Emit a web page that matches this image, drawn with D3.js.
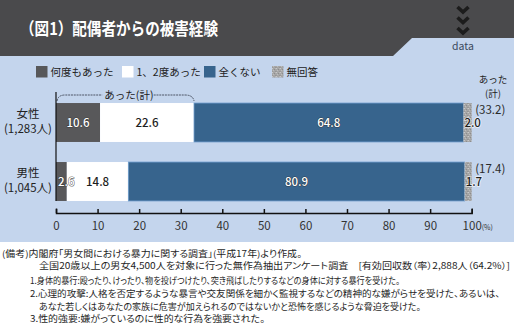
<!DOCTYPE html>
<html>
<head>
<meta charset="utf-8">
<script src="https://cdn.jsdelivr.net/npm/d3@7"></script>
<style>
  html, body { margin: 0; padding: 0; background: #fff; }
  svg { display: block; }
  text { font-family: "Noto Sans CJK JP", "Noto Sans", sans-serif; }
  .note { font-feature-settings: "palt"; }
</style>
</head>
<body>
<svg id="chart" width="514" height="324"></svg>
<script>
// ---- data ----
const categories = ["女性", "男性"];
const sampleLabels = ["(1,283人)", "(1,045人)"];
const seriesNames = ["何度もあった", "1、2度あった", "全くない", "無回答"];
const oftenValues = [10.6, 2.6];
const onceTwiceValues = [22.6, 14.8];
const neverValues = [64.8, 80.9];
const noAnswerValues = [2.0, 1.7];
const tickValues = [0, 10, 20, 30, 40, 50, 60, 70, 80, 90, 100];
const title = "（図1）配偶者からの被害経験";
const notes = [
  "(備考)内閣府「男女間における暴力に関する調査」(平成17年)より作成。",
  "全国20歳以上の男女4,500人を対象に行った無作為抽出アンケート調査　[有効回収数（率）2,888人（64.2%）]",
  "1.身体的暴行:殴ったり、けったり、物を投げつけたり、突き飛ばしたりするなどの身体に対する暴行を受けた。",
  "2.心理的攻撃:人格を否定するような暴言や交友関係を細かく監視するなどの精神的な嫌がらせを受けた、あるいは、",
  "あなた若しくはあなたの家族に危害が加えられるのではないかと恐怖を感じるような脅迫を受けた。",
  "3.性的強要:嫌がっているのに性的な行為を強要された。"
];

const seriesValues = [oftenValues, onceTwiceValues, neverValues, noAnswerValues];
const colors = ["#58585a", "#ffffff", "#37648d", "url(#noise)"];

const svg = d3.select("#chart");
const defs = svg.append("defs");

// speckled grey fill used for the "no answer" segment
const pat = defs.append("pattern").attr("id", "noise")
  .attr("patternUnits", "userSpaceOnUse").attr("width", 4).attr("height", 4);
pat.append("rect").attr("width", 4).attr("height", 4).attr("fill", "#a6a6a6");
[[0,0,"#c8c8c8"],[2,1,"#8c8c8c"],[1,2,"#bdbdbd"],[3,3,"#959595"],[3,0,"#b5b5b5"],[0,3,"#9a9a9a"]]
  .forEach(([px, py, c]) => pat.append("rect").attr("x", px).attr("y", py)
    .attr("width", 1).attr("height", 1).attr("fill", c));

// ---- background & header ----
svg.append("rect").attr("width", 514).attr("height", 324).attr("fill", "#ffffff");
svg.append("rect").attr("width", 514).attr("height", 242).attr("fill", "#c4d5ed");
svg.append("path").attr("d", "M0,0H514V38H412L393,56H0Z").attr("fill", "#4a4a4c");

svg.append("text").attr("x", 20).attr("y", 35)
  .attr("fill", "#ffffff").attr("font-size", 17).attr("font-weight", 700)
  .attr("textLength", 198).attr("lengthAdjust", "spacingAndGlyphs")
  .text(title);

[7, 17.5, 28].forEach(y0 => {
  svg.append("path").attr("d", `M457.5,${y0}L463,${y0 + 5}L468.5,${y0}`)
    .attr("fill", "none").attr("stroke", "#1c1c1c").attr("stroke-width", 3.6);
});
svg.append("text").attr("x", 463).attr("y", 49.5).attr("text-anchor", "middle")
  .attr("font-family", "Roboto, sans-serif").attr("font-size", 10.5).attr("fill", "#3c4a5e")
  .text("data");

// ---- legend ----
const legendX = [36, 122, 204, 272];
seriesNames.forEach((name, i) => {
  svg.append("rect").attr("x", legendX[i]).attr("y", 66).attr("width", 11.5).attr("height", 11.5)
    .attr("fill", colors[i]);
  svg.append("text").attr("x", legendX[i] + 14.5).attr("y", 75.5)
    .attr("font-size", 10.5).attr("fill", "#222").text(name);
});

// ---- scales ----
const x = d3.scaleLinear().domain([0, 100]).range([56, 471.7]);
const y = d3.scaleBand().domain(categories).range([93, 211]).paddingInner(0.34).paddingOuter(0.17);

// stacked segments
const rows = categories.map((c, ci) => {
  let acc = 0;
  return seriesValues.map((vals, si) => {
    const seg = { cat: c, series: si, v: vals[ci], x0: acc, x1: acc + vals[ci] };
    acc += vals[ci];
    return seg;
  });
});
const segs = rows.flat();

const gBars = svg.append("g");
gBars.selectAll("rect").data(segs).join("rect")
  .attr("x", d => x(d.x0)).attr("y", d => y(d.cat))
  .attr("width", d => x(d.x1) - x(d.x0)).attr("height", y.bandwidth())
  .attr("fill", d => colors[d.series])
  .attr("stroke", d => d.series === 2 ? "#6d9ccc" : "none")
  .attr("stroke-width", 0.8);

// value labels
const gLab = svg.append("g").attr("font-family", "'Noto Sans', sans-serif")
  .attr("font-size", 11.5).attr("font-weight", 500);
gLab.selectAll("text").data(segs).join("text")
  .each(function (d) {
    const narrow = (d.x1 - d.x0) < 5;
    const light = d.series === 0 || d.series === 2;
    d3.select(this)
      .attr("x", narrow ? x(d.x0) + (d.series === 0 ? 2 : 1) : (x(d.x0) + x(d.x1)) / 2)
      .attr("text-anchor", narrow ? "start" : "middle")
      .attr("y", y(d.cat) + y.bandwidth() / 2 + 4)
      .attr("fill", light ? "#ffffff" : "#1e1e1e")
      .attr("stroke", light ? "#333333" : "#ffffff")
      .attr("stroke-width", light ? 1.1 : 1.6)
      .attr("stroke-opacity", light ? 0.75 : 0.7)
      .attr("paint-order", "stroke");
  })
  .text(d => d.v.toFixed(1));

// "あった(計)" totals
categories.forEach((c, ci) => {
  const total = oftenValues[ci] + onceTwiceValues[ci];
  svg.append("text").attr("x", x(100) + 3.5).attr("y", y(c) + 11)
    .attr("font-family", "'Noto Sans', sans-serif").attr("font-size", 11.5).attr("fill", "#2a2a2a")
    .text(`(${total.toFixed(1)})`);
});
svg.append("text").attr("x", 493).attr("y", 82.5).attr("text-anchor", "middle")
  .attr("font-size", 9.5).attr("fill", "#222").text("あった");
svg.append("text").attr("x", 493).attr("y", 96.5).attr("text-anchor", "middle")
  .attr("font-size", 9.5).attr("fill", "#222").text("(計)");

// bracket over the "あった" part of the female bar
const bx0 = x(0), bx1 = x(oftenValues[0] + onceTwiceValues[0]);
svg.append("path")
  .attr("d", `M${bx0 + 1},${101}Q${bx0 + 2},${95} ${bx0 + 9},${95}H${x(11.1)}`)
  .attr("fill", "none").attr("stroke", "#4d5566").attr("stroke-width", 1).attr("stroke-dasharray", "2,0.8");
svg.append("path")
  .attr("d", `M${x(23.5)},95H${bx1 - 9}Q${bx1 - 1},${95} ${bx1},${101}`)
  .attr("fill", "none").attr("stroke", "#4d5566").attr("stroke-width", 1).attr("stroke-dasharray", "2,0.8");
svg.append("text").attr("x", (x(11.1) + x(23.5)) / 2 + 1).attr("y", 98.5).attr("text-anchor", "middle")
  .attr("font-size", 10.5).attr("fill", "#222").text("あった(計)");

// category labels
categories.forEach((c, ci) => {
  svg.append("text").attr("x", 28).attr("y", y(c) + 15).attr("text-anchor", "middle")
    .attr("font-size", 11.5).attr("fill", "#222").text(c);
  svg.append("text").attr("x", 28).attr("y", y(c) + 29.5).attr("text-anchor", "middle")
    .attr("font-size", 11.5).attr("fill", "#222").text(sampleLabels[ci]);
});

// vertical baseline
svg.append("line").attr("x1", x(0)).attr("x2", x(0)).attr("y1", 92)
  .attr("y2", y(categories[1]) + y.bandwidth()).attr("stroke", "#111").attr("stroke-width", 1.2);

// ---- x axis ----
const axis = d3.axisBottom(x).tickValues(tickValues).tickSize(-4).tickSizeOuter(-4.5).tickPadding(9);
const gAxis = svg.append("g").attr("transform", "translate(0,213)").call(axis);
gAxis.select(".domain").attr("stroke", "#111").attr("stroke-width", 1.5);
gAxis.selectAll(".tick line").attr("stroke", "#111").attr("stroke-width", 1.5);
gAxis.selectAll(".tick text").attr("font-family", "'Noto Sans', sans-serif")
  .attr("font-size", 11.5).attr("fill", "#333");
svg.append("text").attr("x", x(100) + 10).attr("y", 229.5)
  .attr("font-family", "'Noto Sans', sans-serif").attr("font-size", 7).attr("fill", "#333").text("(%)");

// ---- notes ----
const noteX = [2, 39, 30, 30, 39, 30];
const noteY = [256.5, 269.2, 283.8, 296.5, 309.8, 321.5];
const noteW = [300, 471, 370, 470, 382, 235];
notes.forEach((t, i) => {
  svg.append("text").attr("class", "note").attr("x", noteX[i]).attr("y", noteY[i])
    .attr("font-size", 9).attr("fill", "#1e1e1e")
    .attr("textLength", noteW[i]).attr("lengthAdjust", "spacingAndGlyphs")
    .text(t);
});
</script>
</body>
</html>
